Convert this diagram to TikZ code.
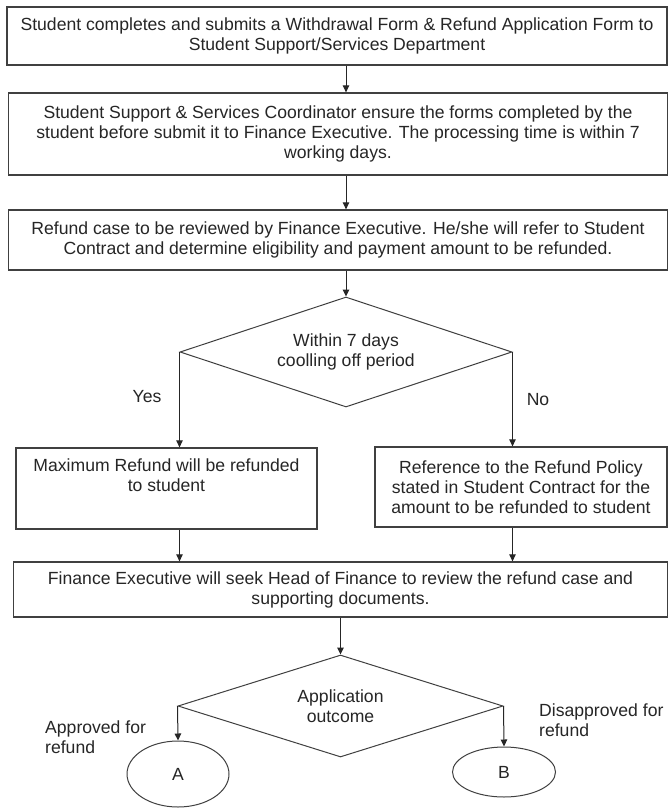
\documentclass[tikz,border=0pt]{standalone}
\usepackage{fontspec}
\setmainfont{Liberation Sans}
\usetikzlibrary{shapes.geometric,arrows.meta}
\begin{document}
\begin{tikzpicture}[x=1pt,y=-1pt,
  every node/.style={font=\fontsize{17.6}{20}\selectfont, text=black!85},
  box/.style={draw=black!75, line width=1.3pt, rectangle, inner sep=0pt, align=center},
  dec/.style={draw=black!75, line width=1pt, diamond, aspect=3, inner sep=0pt, align=center},
  term/.style={draw=black!75, line width=1pt, ellipse, inner sep=0pt},
  arr/.style={draw=black!85, line width=1pt, -{Triangle[length=7pt,width=6.5pt]}},
  lbl/.style={align=left, inner sep=0pt}]
\useasboundingbox (0,0) rectangle (669,808);
\fill[white] (0,0) rectangle (669,808);

\node[box, minimum width=660pt, minimum height=58pt] (b1) at (337,36)
  {Student completes and submits a Withdrawal Form \& Refund Application Form to\\Student Support/Services Department};
\node[box, minimum width=659pt, minimum height=82pt] (b2) at (338,134)
  {Student Support \& Services Coordinator ensure the forms completed by the\\student before submit it to Finance Executive. The processing time is within 7\\working days.};
\node[box, minimum width=659pt, minimum height=60pt] (b3) at (338,240)
  {Refund case to be reviewed by Finance Executive. He/she will refer to Student\\Contract and determine eligibility and payment amount to be refunded.};
\node[dec, minimum width=332pt, minimum height=110pt] (d1) at (346,352)
  {Within 7 days\\coolling off period};
\node[box, minimum width=301pt, minimum height=81pt] (b4) at (166.5,488.5)
  {Maximum Refund will be refunded\\to student\\\strut};
\node[box, minimum width=292pt, minimum height=80pt] (b5) at (521,487)
  {Reference to the Refund Policy\\stated in Student Contract for the\\amount to be refunded to student};
\node[box, minimum width=654pt, minimum height=55pt] (b6) at (340.5,589.5)
  {Finance Executive will seek Head of Finance to review the refund case and\\supporting documents.};
\node[dec, minimum width=325pt, minimum height=102pt] (d2) at (340.5,706)
  {Application\\outcome};
\node[term, minimum width=102pt, minimum height=66pt] (eA) at (178,774) {A};
\node[term, minimum width=103pt, minimum height=50pt] (eB) at (504,772) {B};

\node (yes) at (147,397) {Yes};
\node (no) at (538,400) {No};
\node[lbl, anchor=west] (apr) at (45,737) {Approved for\\refund};
\node[lbl, anchor=west] (dis) at (539,720) {Disapproved for\\refund};

\draw[arr] (b1.south -| d1.north) -- (b2.north -| d1.north);
\draw[arr] (b2.south -| d1.north) -- (b3.north -| d1.north);
\draw[arr] (b3.south -| d1.north) -- (d1.north);
\draw[arr] (d1.west) -- (b4.north -| d1.west);
\draw[arr] (d1.east) -- (b5.north -| d1.east);
\draw[arr] (b4.south -| d1.west) -- (b6.north -| d1.west);
\draw[arr] (b5.south -| d1.east) -- (b6.north -| d1.east);
\draw[arr] (b6.south -| d2.north) -- (d2.north);
\draw[arr] (d2.west) -- (eA.north);
\draw[arr] (d2.east) -- (eB.north);
\end{tikzpicture}
\end{document}
